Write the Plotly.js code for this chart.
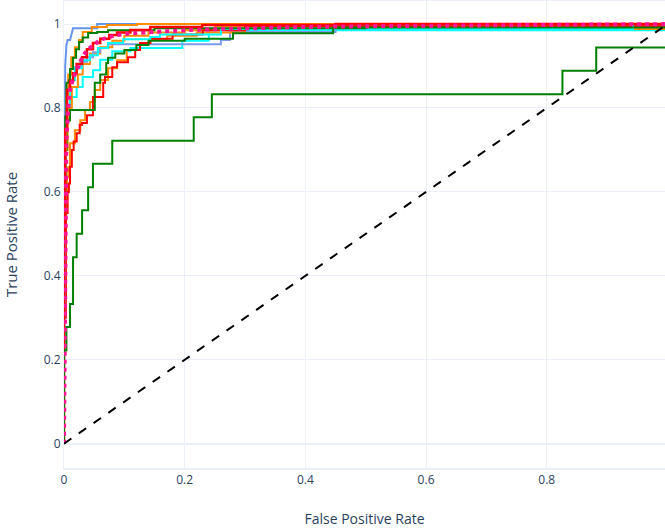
<!DOCTYPE html>
<html>
<head>
<meta charset="utf-8">
<script src="https://cdn.plot.ly/plotly-3.0.1.min.js"></script>
<style>html,body{margin:0;padding:0;background:#fff;}#chart{width:665px;height:530px;}</style>
</head>
<body>
<div id="chart"></div>
<script>
// ROC curves: false positive rate (fpr) and true positive rate (tpr) per class
const blueA_fpr = [0, 0.001, 0.002, 0.002, 0.004, 0.006, 0.010, 0.012, 0.015, 0.021, 0.055, 0.055, 1.0];
const blueA_tpr = [0, 0.300, 0.700, 0.900, 0.950, 0.962, 0.962, 0.975, 0.990, 0.990, 0.990, 1.000, 1.0];

const blueB_fpr = [0, 0.002, 0.005, 0.010, 0.018, 0.027, 0.038, 0.048, 0.060, 0.073, 0.090, 0.260, 0.275, 0.450, 0.600, 1.0];
const blueB_tpr = [0, 0.550, 0.760, 0.840, 0.880, 0.897, 0.910, 0.921, 0.933, 0.943, 0.952, 0.952, 0.962, 0.981, 0.995, 1.0];

const orangeA_fpr = [0, 0.002, 0.004, 0.007, 0.012, 0.018, 0.025, 0.031, 0.046, 0.071, 0.121, 1.0];
const orangeA_tpr = [0, 0.500, 0.700, 0.825, 0.880, 0.921, 0.945, 0.962, 0.981, 0.993, 0.998, 1.0];

const orangeB_fpr = [0, 0.003, 0.005, 0.007, 0.010, 0.018, 0.027, 0.035, 0.043, 0.051, 0.060, 0.073, 0.088, 0.104, 0.126, 0.143, 0.171, 0.220, 0.300, 1.0, 1.0];
const orangeB_tpr = [0, 0.350, 0.550, 0.635, 0.659, 0.716, 0.747, 0.771, 0.795, 0.814, 0.843, 0.867, 0.895, 0.914, 0.938, 0.955, 0.962, 0.972, 0.980, 0.988, 1.0];

const orangeC_fpr = [0, 0.002, 0.006, 0.013, 0.023, 0.031, 0.043, 0.060, 0.080, 0.100, 0.140, 0.200, 0.250, 1.0];
const orangeC_tpr = [0, 0.500, 0.700, 0.800, 0.850, 0.880, 0.905, 0.930, 0.945, 0.960, 0.972, 0.980, 0.985, 0.995];

const greenBad_fpr = [0, 0.004, 0.010, 0.015, 0.021, 0.030, 0.040, 0.048, 0.080, 0.215, 0.245, 0.826, 0.882, 1.0];
const greenBad_tpr = [0, 0.222, 0.278, 0.333, 0.444, 0.500, 0.556, 0.611, 0.667, 0.722, 0.778, 0.833, 0.889, 0.944];

const greenB_fpr = [0, 0.002, 0.004, 0.008, 0.010, 0.015, 0.020, 0.025, 0.031, 0.040, 0.055, 0.073, 0.150, 0.500, 1.0];
const greenB_tpr = [0, 0.600, 0.780, 0.860, 0.866, 0.893, 0.920, 0.940, 0.957, 0.968, 0.979, 0.981, 0.985, 0.990, 1.0];

const greenC_fpr = [0, 0.002, 0.005, 0.010, 0.015, 0.051, 0.060, 0.070, 0.073, 0.085, 0.100, 0.120, 0.140, 0.200, 0.280, 0.446, 1.0];
const greenC_tpr = [0, 0.500, 0.700, 0.770, 0.795, 0.795, 0.860, 0.880, 0.907, 0.920, 0.930, 0.938, 0.950, 0.960, 0.965, 0.978, 0.992];

const redA_fpr = [0, 0.002, 0.005, 0.010, 0.015, 0.021, 0.030, 0.038, 0.048, 0.060, 0.075, 0.088, 0.110, 0.143, 0.197, 0.229, 0.450, 1.0];
const redA_tpr = [0, 0.500, 0.750, 0.843, 0.865, 0.883, 0.905, 0.921, 0.940, 0.955, 0.965, 0.974, 0.980, 0.986, 0.993, 0.993, 0.998, 1.0];

const redB_fpr = [0, 0.003, 0.006, 0.008, 0.010, 0.013, 0.016, 0.021, 0.026, 0.030, 0.038, 0.048, 0.065, 0.068, 0.080, 0.088, 0.106, 0.118, 0.126, 0.143, 0.180, 0.230, 0.300, 1.0];
const redB_tpr = [0, 0.300, 0.550, 0.600, 0.620, 0.660, 0.700, 0.720, 0.740, 0.760, 0.764, 0.783, 0.826, 0.860, 0.874, 0.897, 0.909, 0.921, 0.938, 0.955, 0.965, 0.975, 0.985, 0.995];

const cyanA_fpr = [0, 0.002, 0.005, 0.010, 0.018, 0.030, 0.043, 0.056, 0.073, 0.098, 0.143, 0.159, 0.260, 0.943, 1.0];
const cyanA_tpr = [0, 0.550, 0.750, 0.830, 0.867, 0.895, 0.914, 0.926, 0.943, 0.955, 0.964, 0.969, 0.975, 0.988, 1.0];

const cyanB_fpr = [0, 0.002, 0.005, 0.010, 0.021, 0.031, 0.048, 0.060, 0.080, 0.110, 0.135, 0.196, 0.240, 1.0];
const cyanB_tpr = [0, 0.500, 0.700, 0.795, 0.826, 0.850, 0.874, 0.890, 0.915, 0.935, 0.943, 0.943, 0.960, 0.985];

const micro_fpr = [0, 0.001, 0.002, 0.004, 0.007, 0.010, 0.015, 0.023, 0.030, 0.038, 0.048, 0.060, 0.075, 0.088, 0.110, 0.143, 0.175, 0.209, 0.260, 0.308, 0.391, 0.500, 0.700, 0.850, 1.0];
const micro_tpr = [0, 0.300, 0.600, 0.723, 0.800, 0.843, 0.870, 0.897, 0.920, 0.938, 0.950, 0.962, 0.969, 0.974, 0.978, 0.981, 0.984, 0.986, 0.988, 0.990, 0.993, 0.995, 0.997, 0.999, 1.0];

const diag_fpr = [0, 1];
const diag_tpr = [0, 1];

const xTicks = [0, 0.2, 0.4, 0.6, 0.8];
const yTicks = [0, 0.2, 0.4, 0.6, 0.8, 1];

function curve(x, y, color, width, dash, shape) {
  return {x: x, y: y, type: 'scatter', mode: 'lines', showlegend: false,
          line: {color: color, width: width, dash: dash || 'solid', shape: shape || 'linear'}, hoverinfo: 'skip'};
}

const data = [
  curve(cyanB_fpr, cyanB_tpr, '#00FFFF', 2, 'solid', 'vh'),
  curve(orangeC_fpr, orangeC_tpr, '#FF8C00', 2, 'solid', 'vh'),
  curve(blueB_fpr, blueB_tpr, '#7B9CEB', 2, 'solid', 'vh'),
  curve(orangeB_fpr, orangeB_tpr, '#FF8C00', 2, 'solid', 'vh'),
  curve(redB_fpr, redB_tpr, '#FF0000', 2, 'solid', 'vh'),
  curve(cyanA_fpr, cyanA_tpr, '#00FFFF', 2, 'solid', 'vh'),
  curve(greenC_fpr, greenC_tpr, '#008000', 2, 'solid', 'vh'),
  curve(blueA_fpr, blueA_tpr, '#6495ED', 2),
  curve(orangeA_fpr, orangeA_tpr, '#FF8C00', 2, 'solid', 'vh'),
  curve(greenB_fpr, greenB_tpr, '#008000', 2, 'solid', 'vh'),
  curve(redA_fpr, redA_tpr, '#FF0000', 2.5, 'solid', 'vh'),
  curve(greenBad_fpr, greenBad_tpr, '#008000', 2, 'solid', 'vh'),
  curve(micro_fpr, micro_tpr, '#FF1493', 4, 'dot'),
  curve(diag_fpr, diag_tpr, '#000000', 2, 'dash')
];

const layout = {
  width: 665, height: 530,
  margin: {l: 64, r: 0, t: 1, b: 62},
  paper_bgcolor: '#ffffff', plot_bgcolor: '#ffffff',
  font: {family: '"Open Sans", Verdana, Arial, sans-serif', color: '#2a3f5f', size: 12},
  showlegend: false,
  xaxis: {
    title: {text: 'False Positive Rate', font: {size: 14, color: '#2a3f5f'}, standoff: 27},
    range: [0, 0.996], tickvals: xTicks, ticktext: xTicks.map(String),
    gridcolor: '#EBF0F8', zeroline: true, zerolinecolor: '#EBF0F8', zerolinewidth: 2,
    showline: true, linecolor: '#EBF0F8', linewidth: 2, mirror: true,
    ticks: '', automargin: false
  },
  yaxis: {
    title: {text: 'True Positive Rate', font: {size: 15, color: '#2a3f5f'}, standoff: 22},
    range: [-0.058, 1.055], tickvals: yTicks, ticktext: yTicks.map(String),
    gridcolor: '#EBF0F8', zeroline: true, zerolinecolor: '#EBF0F8', zerolinewidth: 2,
    showline: true, linecolor: '#EBF0F8', linewidth: 1, mirror: true,
    ticks: '', automargin: false
  }
};

Plotly.newPlot('chart', data, layout, {displayModeBar: false, staticPlot: true});
</script>
</body>
</html>
